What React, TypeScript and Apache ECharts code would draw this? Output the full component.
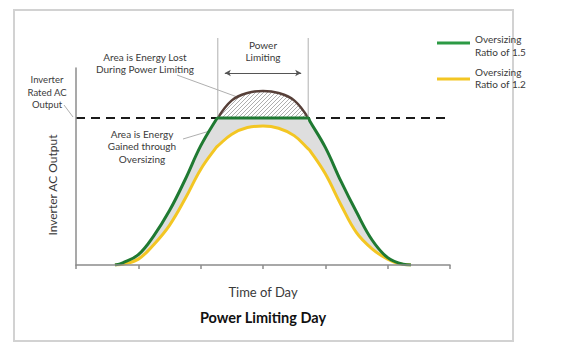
import React, { useEffect, useRef } from "react";
import * as echarts from "echarts";

// Time of day (arbitrary hour units along the x axis)
const hours = [2.5, 3, 4, 5, 6, 7, 8, 9, 9.1, 10, 11, 12, 13, 14, 14.9, 15, 16, 17, 18, 19, 20, 21, 21.5];
// Oversizing ratio 1.5 - potential (unclipped) output
const ratio15Potential = [0, 0.015, 0.07, 0.2, 0.37, 0.58, 0.81, 0.99, 1.0, 1.12, 1.17, 1.184, 1.17, 1.12, 1.0, 0.98, 0.8, 0.57, 0.36, 0.17, 0.05, 0.005, 0];
// Oversizing ratio 1.5 - actual (clipped) output
const ratio15Output = [0, 0.015, 0.07, 0.2, 0.37, 0.58, 0.81, 0.99, 1.0, 1.0, 1.0, 1.0, 1.0, 1.0, 1.0, 0.98, 0.8, 0.57, 0.36, 0.17, 0.05, 0.005, 0];
// Oversizing ratio 1.2
const ratio12Output = [0, 0.005, 0.04, 0.14, 0.27, 0.45, 0.65, 0.8, 0.81, 0.89, 0.935, 0.945, 0.93, 0.88, 0.79, 0.78, 0.62, 0.41, 0.22, 0.11, 0.04, 0.003, 0];

const inverterLimit = 1.0;
const limitStart = 9.1;
const limitEnd = 14.9;
const markerTop = 1.544;
const arrowLevel = 1.306;
const arrowFrom = 9.55;
const arrowTo = 14.45;

const FONT = "Lato, 'Open Sans', sans-serif";
const GREEN = "#1f7a32";
const YELLOW = "#f3c623";
const BROWN = "#574039";
const TEXT = "#3a3a3a";

export default function App() {
  const ref = useRef<HTMLDivElement>(null);
  useEffect(() => {
    if (!ref.current) return;
    const chart = echarts.init(ref.current, undefined, { renderer: "svg" });

    const cv = document.createElement("canvas");
    cv.width = 4;
    cv.height = 4;
    const ctx = cv.getContext("2d")!;
    ctx.fillStyle = "#ffffff";
    ctx.fillRect(0, 0, 4, 4);
    ctx.strokeStyle = "#a5a5a5";
    ctx.lineWidth = 0.9;
    ctx.beginPath();
    ctx.moveTo(-1, 5);
    ctx.lineTo(5, -1);
    ctx.stroke();

    const pair = (ys: number[]) => hours.map((h, i) => [h, ys[i]]);
    const lostData = hours
      .map((h, i) => [h, ratio15Potential[i]])
      .filter((p) => p[0] >= limitStart && p[0] <= limitEnd);

    const hidden = { show: false };
    const txt = (x: number, y: number, text: string, extra: any = {}) => ({
      type: "text",
      x,
      y,
      silent: true,
      style: {
        text,
        fill: TEXT,
        font: `10px ${FONT}`,
        align: "center",
        verticalAlign: "middle",
        lineHeight: 12.5,
        ...extra,
      },
    });
    const seg = (x1: number, y1: number, x2: number, y2: number, stroke = "#9a9a9a", lineWidth = 0.8) => ({
      type: "line",
      silent: true,
      shape: { x1, y1, x2, y2 },
      style: { stroke, lineWidth },
    });

    chart.setOption({
      animation: false,
      backgroundColor: "#ffffff",
      grid: { left: 76, top: 68, width: 374, height: 197, containLabel: false },
      xAxis: {
        type: "value",
        min: 0,
        max: 24,
        interval: 4,
        z: 5,
        axisLine: { show: true, lineStyle: { color: "#8c8c8c", width: 1.5 } },
        axisTick: { show: true, length: 4, lineStyle: { color: "#8c8c8c", width: 1.5 } },
        axisLabel: hidden,
        splitLine: hidden,
        name: "Time of Day",
        nameLocation: "middle",
        nameGap: 20,
        nameTextStyle: { fontFamily: FONT, fontSize: 13, color: TEXT },
      },
      yAxis: {
        type: "value",
        min: 0,
        max: 1.34,
        z: 5,
        axisLine: { show: true, lineStyle: { color: "#8c8c8c", width: 1.5 } },
        axisTick: hidden,
        axisLabel: hidden,
        splitLine: hidden,
      },
      series: [
        {
          name: "Energy Lost",
          type: "line",
          data: lostData,
          smooth: 0.4,
          showSymbol: false,
          lineStyle: { color: BROWN, width: 2.5 },
          areaStyle: { color: { image: cv, repeat: "repeat", imageWidth: 4, imageHeight: 4 }, opacity: 1 },
        },
        {
          name: "Gain fill",
          type: "line",
          data: pair(ratio15Output),
          smooth: 0.4,
          showSymbol: false,
          lineStyle: { width: 0, opacity: 0 },
          areaStyle: { color: "#dedede", opacity: 1 },
        },
        {
          name: "Under fill",
          type: "line",
          data: pair(ratio12Output),
          smooth: 0.4,
          showSymbol: false,
          lineStyle: { width: 0, opacity: 0 },
          areaStyle: { color: "#ffffff", opacity: 1 },
        },
        {
          name: "Inverter Rated AC Output",
          type: "line",
          data: [
            [0, inverterLimit],
            [24, inverterLimit],
          ],
          showSymbol: false,
          lineStyle: { color: "#1a1a1a", width: 2, type: [9, 6] },
        },
        {
          name: "Limit start",
          type: "line",
          clip: false,
          data: [
            [limitStart, inverterLimit],
            [limitStart, markerTop],
          ],
          showSymbol: false,
          lineStyle: { color: "#b0b0b0", width: 1 },
        },
        {
          name: "Limit end",
          type: "line",
          clip: false,
          data: [
            [limitEnd, inverterLimit],
            [limitEnd, markerTop],
          ],
          showSymbol: false,
          lineStyle: { color: "#b0b0b0", width: 1 },
          markLine: {
            silent: true,
            symbol: ["arrow", "arrow"],
            symbolSize: [5, 6],
            label: hidden,
            lineStyle: { color: "#555", width: 1, type: "solid" },
            data: [[{ coord: [arrowFrom, arrowLevel] }, { coord: [arrowTo, arrowLevel] }]],
          },
        },
        {
          name: "Oversizing Ratio of 1.2",
          type: "line",
          data: pair(ratio12Output),
          smooth: 0.4,
          showSymbol: false,
          lineStyle: { color: YELLOW, width: 3 },
        },
        {
          name: "Oversizing Ratio of 1.5",
          type: "line",
          data: pair(ratio15Output),
          smooth: 0.4,
          showSymbol: false,
          lineStyle: { color: GREEN, width: 3 },
        },
      ],
      graphic: [
        { type: "rect", silent: true, shape: { x: 14, y: 10, width: 499, height: 331 }, style: { fill: "none", stroke: "#d2d2d2", lineWidth: 2 } },
        txt(263, 51, "Power\nLimiting"),
        txt(145, 63, "Area is Energy Lost\nDuring Power Limiting"),
        txt(47, 92, "Inverter\nRated AC\nOutput", { font: `9.5px ${FONT}` }),
        txt(142, 146, "Area is Energy\nGained through\nOversizing"),
        seg(177, 75, 262, 106),
        seg(64, 105, 73, 117),
        seg(183, 139, 223, 127),
        {
          type: "text",
          x: 52,
          y: 185,
          rotation: Math.PI / 2,
          silent: true,
          style: { text: "Inverter AC Output", fill: TEXT, font: `12px ${FONT}`, align: "center", verticalAlign: "middle" },
        },
        txt(263, 317, "Power Limiting Day", { font: `bold 14.5px ${FONT}`, fill: "#111" }),
        seg(437, 43, 470, 43, "#2c9a44", 3),
        txt(475, 45.5, "Oversizing\nRatio of 1.5", { align: "left" }),
        seg(437, 79, 470, 79, YELLOW, 3),
        txt(475, 78, "Oversizing\nRatio of 1.2", { align: "left" }),
      ],
    });
    return () => chart.dispose();
  }, []);
  return <div ref={ref} style={{ position: "fixed", left: 0, top: 0, width: 564, height: 355 }} />;
}
